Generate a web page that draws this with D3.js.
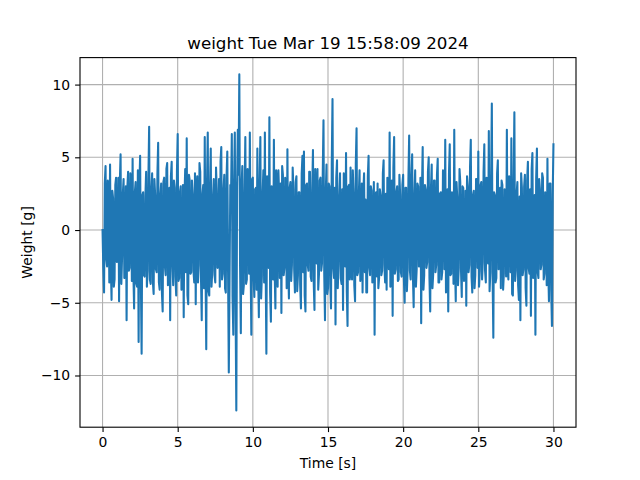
<!DOCTYPE html>
<html>
<head>
  <meta charset="utf-8">
  <title>weight</title>
  <script src="https://d3js.org/d3.v7.min.js"></script>
  <style>
    body { margin: 0; background: #fff; }
    svg { font-family: "DejaVu Sans", sans-serif; }
  </style>
</head>
<body>
  <div id="my_dataviz"></div>
  <script>
    // sample spacing and title
    var chartTitle = "weight Tue Mar 19 15:58:09 2024";
    var sampleStep = 0.05;
    var xTicks = [0, 5, 10, 15, 20, 25, 30];
    var yTicks = [-10, -5, 0, 5, 10];

    // weight readings [g], one every 0.05 s (one row = 1 s)
    var weight = [
      0.0,-2.6, -4.3,3.2, 4.4,-2.0, -2.5,3.4, 3.1,-3.6, 4.5,-2.4, -4.8,2.7, 2.2,-3.9, -3.4,3.1, 3.6,-2.2,
      -2.1,3.6, -4.9,3.3, 5.2,-3.7, -1.8,2.5, 3.5,-3.3, -3.0,3.0, -6.2,2.9, 4.0,-2.8, -2.6,3.9, 2.8,-3.5,
      4.9,-2.9, -5.4,2.6, 3.3,-3.7, -3.9,4.1, -7.7,3.0, 5.1,-3.4, -8.5,2.4, 2.6,-3.1, -3.2,2.3, 4.0,-3.9,
      -2.8,3.5, 7.1,-3.4, -3.7,2.8, 3.9,-3.6, -4.4,3.5, 2.4,-2.7, -2.9,3.8, 6.0,-3.6, -4.1,2.4, 3.2,-4.3,
      -5.6,3.3, 3.6,-2.5, -3.1,4.2, 4.6,-3.8, -2.7,2.9, -6.2,3.7, 4.7,-2.3, -3.8,3.4, 2.9,-3.2, -4.5,4.0,
      6.6,-3.5, -3.3,2.6, 3.0,-4.1, -4.0,3.1, -6.0,2.2, 4.2,-2.9, 6.3,-4.5, -5.1,3.8, 3.4,-3.0, -2.9,3.4,
      2.5,-2.8, -3.6,3.9, -5.1,2.7, 3.7,-3.6, -2.4,4.6, 4.0,-3.3, -6.2,2.5, 3.1,-4.0, 6.4,-2.4, -8.2,3.2,
      6.7,-4.2, -4.5,3.0, 5.6,-3.9, -2.8,2.3, 3.5,-3.1, -3.6,4.3, 2.7,-2.6, -2.2,3.5, -3.9,4.7, 5.7,-3.4,
      -3.0,2.8, 3.8,-4.0, -4.3,3.6, 5.4,-2.7, -9.8,-3.5, 3.1,2.4, 6.6,-4.6, -7.2,3.3, 6.7,-5.1, -12.4,2.9,
      6.9,3.8, 10.7,-2.5, -7.1,3.1, 4.4,-4.4, -3.8,2.6, 6.4,-3.7, -3.4,4.2, 3.0,-3.0, 6.7,-2.2, -7.2,3.5,
      3.6,-3.3, -4.6,2.8, 2.9,-4.1, 5.6,-2.9, -6.0,3.4, 6.4,-4.7, -3.2,2.5, 4.1,-3.6, 6.7,-2.3, -8.5,3.7,
      3.4,-2.6, 7.75,-4.3, -6.3,3.0, 2.4,-3.4, 6.2,-2.8, -5.4,4.1, 3.0,-3.9, 4.1,2.4, -3.3,3.2, -5.7,4.4,
      3.8,-3.1, -2.6,3.6, 2.2,-4.0, 5.55,-2.5, -4.7,2.9, 3.3,-3.5, -2.4,4.3, 2.8,-2.7, -4.3,3.3, 3.7,-4.2,
      -3.1,2.6, 2.6,-3.8, -5.4,3.9, 5.1,-2.9, 5.4,-4.5, -5.6,3.1, 3.2,-2.4, -2.8,4.0, 4.0,-3.2, -3.5,2.7,
      5.5,-3.6, -5.5,4.2, 2.7,-2.3, 4.2,-4.1, -3.0,3.4, 3.6,-2.8, -2.3,3.8, 7.55,-3.0, -6.2,2.5, 4.5,-4.4,
      -4.0,3.2, 3.0,-3.7, -5.4,4.5, 9.0,-2.6, -3.3,2.9, -6.5,3.6, 4.8,-4.0, -2.4,2.3, 3.9,-3.3, -3.7,2.8,
      -5.5,3.9, 2.8,-2.5, 5.3,-4.2, -6.6,3.0, 3.1,-3.4, 4.3,-2.7, -3.4,4.1, 2.6,-3.8, -4.9,4.6, 7.0,-3.1,
      -2.9,2.4, 4.1,-3.5, -2.5,3.2, -4.3,2.6, 3.9,-2.9, 2.1,-4.3, -4.3,3.7, 5.1,-2.6, -3.1,3.0, 2.7,-3.6,
      -2.0,3.3, -7.2,2.2, 2.6,-3.2, 3.2,-4.0, -3.3,2.8, 2.4,-3.1, -2.8,3.9, 4.8,-2.4, -3.6,2.5, -4.1,3.6,
      3.1,-2.7, 6.7,-3.9, -3.0,3.4, -5.9,4.3, 6.4,-3.0, -2.7,2.6, 3.0,-3.5, -3.4,3.8, 2.4,-2.9, -3.2,3.1,
      3.8,-3.4, -5.0,2.9, 2.9,-4.2, -2.6,3.5, 6.5,-2.8, -3.4,3.7, 5.2,-3.2, -5.3,2.4, 4.1,-3.9, -2.7,3.2,
      3.0,-2.5, -2.4,3.6, -6.4,2.7, 5.7,-4.1, -3.1,3.1, 2.8,-2.6, -2.2,4.0, 5.0,-3.3, -5.6,2.9, 4.5,-4.0,
      -3.0,3.4, 3.4,-2.9, -2.4,3.8, 4.9,-3.6, -3.6,2.5, 2.6,-3.4, -2.9,4.1, 3.1,-2.7, 6.2,-4.3, -4.1,2.8,
      -5.6,3.9, 5.9,-3.1, -3.0,2.6, 2.5,-3.7, 6.9,-2.4, -4.9,3.3, 2.2,-3.8, -2.6,4.2, 3.3,-2.8, -4.6,3.0,
      2.9,-3.5, -3.2,2.7, -5.2,3.7, 3.0,-2.9, -2.4,4.3, 6.2,-3.2, -4.3,2.4, 2.7,-4.0, -3.1,3.5, 3.5,-2.6,
      5.4,-3.9, -2.8,3.1, 3.3,-3.4, -2.2,4.0, 5.9,-2.8, -3.6,3.6, 2.5,-2.3, 6.8,-4.2, -2.9,3.3, 8.7,-3.0,
      -7.4,2.6, 2.4,-3.6, -3.3,3.9, 4.8,-2.7, -2.6,2.9, -4.0,3.4, 3.1,-4.1, -3.0,2.8, 2.2,-3.2, 6.9,-2.5,
      -3.4,3.7, 2.7,-2.9, 6.3,-4.4, -4.5,3.2, 8.1,-3.5, -2.8,2.5, 3.3,-3.8, -4.8,2.3, -6.2,3.9, 2.9,-3.1,
      -2.7,3.0, 3.8,-4.0, -5.2,3.4, 4.7,-2.6, -3.0,2.8, -5.9,4.2, 5.3,-3.3, -2.5,2.4, -7.2,3.6, 5.6,-2.9,
      -3.3,3.5, 2.8,-2.7, -2.4,3.9, 3.6,-3.4, -3.0,2.6, 2.3,-3.8, 4.9,-2.5, -4.9,3.2, 3.2,-4.1, -6.6,2.4,
      5.9
    ];

    var data = weight.map(function(v, i) { return { t: i * sampleStep, w: v }; });

    // figure layout like a default matplotlib figure
    var W = 640, H = 480;
    var margin = {top: 57.6, right: 64, bottom: 52.8, left: 80},
        width = W - margin.left - margin.right,
        height = H - margin.top - margin.bottom;

    var svg = d3.select("#my_dataviz")
      .append("svg")
        .attr("width", W)
        .attr("height", H);

    var g = svg.append("g")
        .attr("transform", "translate(" + margin.left + "," + margin.top + ")");

    // 5% padding on both axes
    var tMin = d3.min(data, function(d) { return d.t; }),
        tMax = d3.max(data, function(d) { return d.t; }),
        wMin = d3.min(data, function(d) { return d.w; }),
        wMax = d3.max(data, function(d) { return d.w; });
    var tPad = (tMax - tMin) * 0.05, wPad = (wMax - wMin) * 0.05;

    var x = d3.scaleLinear().domain([tMin - tPad, tMax + tPad]).range([0, width]);
    var y = d3.scaleLinear().domain([wMin - wPad, wMax + wPad]).range([height, 0]);

    var fmt = function(d) { return d < 0 ? "\u2212" + Math.abs(d) : String(d); };

    // grid
    g.append("g").selectAll("line").data(xTicks).enter().append("line")
      .attr("x1", function(d) { return x(d); }).attr("x2", function(d) { return x(d); })
      .attr("y1", 0).attr("y2", height)
      .attr("stroke", "#b0b0b0").attr("stroke-width", 1.1);
    g.append("g").selectAll("line").data(yTicks).enter().append("line")
      .attr("y1", function(d) { return y(d); }).attr("y2", function(d) { return y(d); })
      .attr("x1", 0).attr("x2", width)
      .attr("stroke", "#b0b0b0").attr("stroke-width", 1.1);

    // the line
    g.append("path")
      .datum(data)
      .attr("d", d3.line()
        .x(function(d) { return x(d.t); })
        .y(function(d) { return y(d.w); }))
      .attr("fill", "none")
      .attr("stroke", "#1f77b4")
      .attr("stroke-width", 2.08)
      .attr("stroke-linejoin", "round")
      .attr("stroke-linecap", "square");

    // axes
    var xAxis = g.append("g")
      .attr("transform", "translate(0," + height + ")")
      .call(d3.axisBottom(x).tickValues(xTicks).tickFormat(fmt).tickSize(4.9).tickPadding(4.9));
    var yAxis = g.append("g")
      .call(d3.axisLeft(y).tickValues(yTicks).tickFormat(fmt).tickSize(4.9).tickPadding(4.9));
    [xAxis, yAxis].forEach(function(a) {
      a.select(".domain").remove();
      a.selectAll(".tick line").attr("stroke", "#000").attr("stroke-width", 1.1);
      a.selectAll(".tick text").attr("fill", "#000")
        .style("font-family", "DejaVu Sans").style("font-size", "13.9px");
    });

    // frame
    g.append("rect")
      .attr("width", width).attr("height", height)
      .attr("fill", "none").attr("stroke", "#000").attr("stroke-width", 1.1);

    // labels
    svg.append("text")
      .attr("x", margin.left + width / 2).attr("y", margin.top - 8.5)
      .attr("text-anchor", "middle")
      .style("font-size", "16.7px")
      .text(chartTitle);

    svg.append("text")
      .attr("x", margin.left + width / 2).attr("y", 468)
      .attr("text-anchor", "middle")
      .style("font-size", "13.9px")
      .text("Time [s]");

    svg.append("text")
      .attr("transform", "translate(32," + (margin.top + height / 2) + ") rotate(-90)")
      .attr("text-anchor", "middle")
      .style("font-size", "13.9px")
      .text("Weight [g]");
  </script>
</body>
</html>
